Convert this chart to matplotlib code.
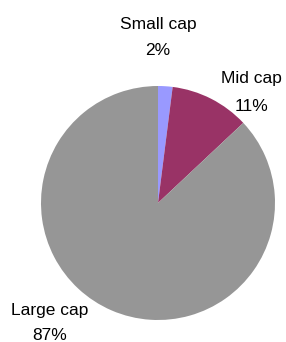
import matplotlib
matplotlib.use("Agg")
import matplotlib.pyplot as plt

# data
categories = ["Small cap", "Mid cap", "Large cap"]
shares = [2, 11, 87]
colors = ["#9999FF", "#993366", "#969696"]

# label baselines in pixel coords (y up): x, name line, value line
label_pos = [(158, 313, 287), (251, 259, 231), (50, 27, 1.5)]

plt.rcParams['font.family'] = ['Liberation Sans', 'DejaVu Sans']

fig = plt.figure(figsize=(2.86, 3.42), dpi=100)
ax = fig.add_axes([0, 0, 1, 1])

ax.pie(shares, colors=colors, startangle=90, counterclock=False,
       center=(158, 139), radius=117, frame=True,
       wedgeprops=dict(linewidth=0))
ax.set_xlim(0, 286)
ax.set_ylim(0, 342)
ax.set_aspect('equal')
ax.axis('off')

for (x, y1, y2), name, v in zip(label_pos, categories, shares):
    ax.text(x, y1, name, ha='center', va='baseline', fontsize=12.5)
    ax.text(x, y2, "%d%%" % v, ha='center', va='baseline', fontsize=12.5)

fig.savefig("out.png", dpi=100)
